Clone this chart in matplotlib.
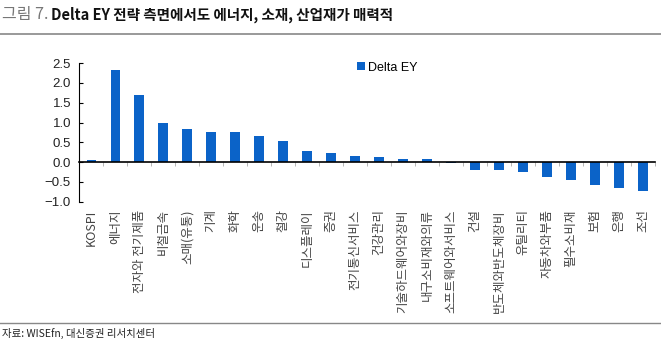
import matplotlib
matplotlib.use("Agg")
from matplotlib import pyplot as plt
from matplotlib.lines import Line2D
import numpy as np

plt.rcParams['font.family'] = ['Liberation Sans', 'Noto Sans CJK KR', 'DejaVu Sans']

sectors = ["KOSPI", "에너지", "전자와 전기제품", "비철금속", "소매(유통)", "기계", "화학",
           "운송", "철강", "디스플레이", "증권", "전기통신서비스", "건강관리",
           "기술하드웨어와장비", "내구소비재와의류", "소프트웨어와서비스", "건설",
           "반도체와반도체장비", "유틸리티", "자동차와부품", "필수소비재", "보험", "은행", "조선"]
delta_ey = [0.05, 2.33, 1.70, 0.99, 0.84, 0.77, 0.75, 0.67, 0.54, 0.28, 0.22, 0.15, 0.12,
            0.08, 0.08, -0.03, -0.19, -0.21, -0.25, -0.38, -0.46, -0.57, -0.65, -0.74]
yticks = [2.5, 2.0, 1.5, 1.0, 0.5, 0.0, -0.5, -1.0]

bar_color = "#0B63C8"

fig = plt.figure(figsize=(6.61, 3.57), dpi=100)
ax = fig.add_axes([0.12, 0.435, 0.871, 0.388])

x = np.arange(len(sectors))
ax.bar(x, delta_ey, width=0.4, color=bar_color, label="Delta EY", zorder=2)

ax.set_xlim(-0.5, len(sectors) - 0.5)
ax.set_ylim(-1.0, 2.5)
ax.set_yticks(yticks)
ax.set_yticklabels([f"{v:.1f}".replace("-", "\u2212") for v in yticks], fontsize=9.5, color="#222222")
ax.tick_params(axis='y', direction='in', length=3, width=0.8, pad=6)

# x axis sits at zero, labels pushed down to the bottom
for s in ['top', 'right']:
    ax.spines[s].set_visible(False)
ax.spines['bottom'].set_position(('data', 0))
ax.spines['bottom'].set_linewidth(1.2)
ax.spines['left'].set_linewidth(0.8)
ax.set_xticks(x)
ax.set_xticklabels(sectors, rotation=90, fontsize=9, color="#444444",
                   family=['Noto Sans CJK KR', 'DejaVu Sans'])
ax.tick_params(axis='x', which='major', length=0, pad=34)
ax.set_xticks(np.arange(len(sectors) + 1) - 0.5, minor=True)
ax.tick_params(axis='x', which='minor', length=3, color="#aaaaaa", direction='out')

ax.legend(loc='upper left', bbox_to_anchor=(0.531, 0.845), bbox_transform=fig.transFigure,
          frameon=False, fontsize=9, handlelength=0.6, handleheight=0.6, handletextpad=0.3,
          borderpad=0)

# header and footer
fig.text(0.003, 0.958, "그림 7.", fontsize=11.5, color="#777777", va='center',
         family=['Noto Sans CJK KR', 'DejaVu Sans'])
fig.text(0.077, 0.958, "Delta EY 전략 측면에서도 에너지, 소재, 산업재가 매력적", fontsize=10.5,
         fontweight='bold', color="#111111", va='center',
         family=['Noto Sans CJK KR', 'DejaVu Sans'])
fig.add_artist(Line2D([0, 1], [0.904, 0.904], transform=fig.transFigure, color="#888888", lw=1.2))
fig.add_artist(Line2D([0, 1], [0.096, 0.096], transform=fig.transFigure, color="#888888", lw=1.0))
fig.text(0.003, 0.067, "자료: WISEfn, 대신증권 리서치센터", fontsize=7.5, color="#222222", va='center',
         family=['Noto Sans CJK KR', 'DejaVu Sans'])

fig.savefig("out.png", dpi=100)
